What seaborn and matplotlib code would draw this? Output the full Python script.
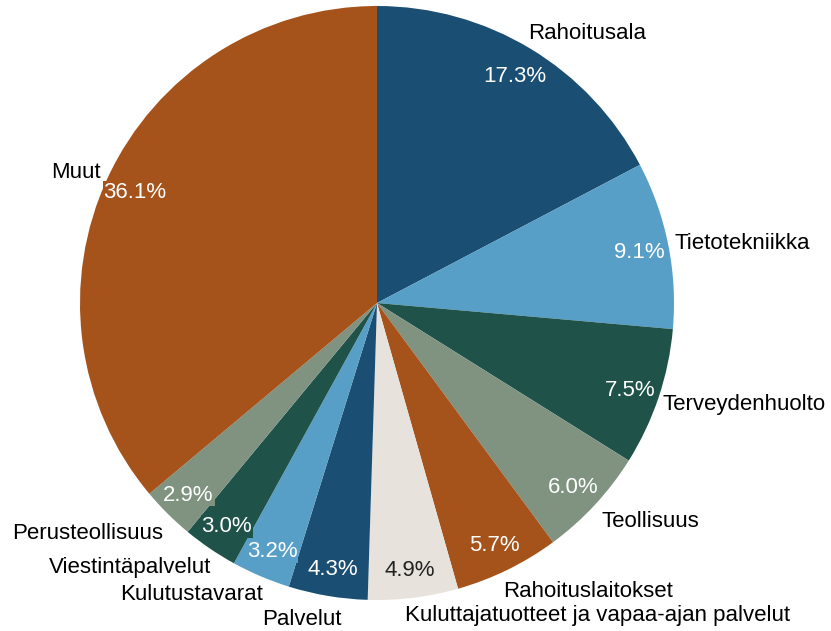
import matplotlib.pyplot as plt
import seaborn as sns

sectors = ["Rahoitusala", "Tietotekniikka", "Terveydenhuolto", "Teollisuus",
           "Rahoituslaitokset", "Kuluttajatuotteet ja vapaa-ajan palvelut",
           "Palvelut", "Kulutustavarat", "Viestintäpalvelut",
           "Perusteollisuus", "Muut"]
shares = [17.3, 9.1, 7.5, 6.0, 5.7, 4.9, 4.3, 3.2, 3.0, 2.9, 36.1]

colors = ["#1a4e72", "#589fc7", "#1f5248", "#7f9380", "#a5521b", "#e7e3dc",
          "#1a4e72", "#589fc7", "#1f5248", "#7f9380", "#a5521b"]

# outside label centres, in pie radius units
label_pos = [(0.707, 0.909), (1.229, 0.202), (1.236, -0.343), (0.919, -0.737),
             (0.710, -0.972), (0.744, -1.053), (-0.253, -1.067), (-0.626, -0.980),
             (-0.832, -0.892), (-0.973, -0.775), (-1.013, 0.438)]

sns.set_theme(style="white")
plt.rcParams["font.family"] = ["Liberation Sans", "DejaVu Sans"]

fig = plt.figure(figsize=(8.31, 6.31), dpi=100)
ax = fig.add_axes([0, 0, 1, 1])
wedges, texts, pcts = ax.pie(shares, colors=colors, startangle=90, counterclock=False,
                             autopct="%.1f%%", pctdistance=0.9,
                             wedgeprops={"linewidth": 0, "edgecolor": "none"},
                             textprops={"fontsize": 16, "color": "white"})

for t, c in zip(pcts, colors):
    t.set_va("center_baseline")
    t.set_bbox(dict(facecolor=c, edgecolor="none", pad=0.5))
pcts[5].set_color("#222222")

for name, (x, y) in zip(sectors, label_pos):
    ax.text(x, y, name, ha="center", va="center", fontsize=16, color="black")

ax.set_xlim(-377 / 297, (831 - 377) / 297)
ax.set_ylim(-328 / 297, (631 - 328) / 297)
ax.set_aspect("auto")
ax.axis("off")

fig.savefig("out.png", dpi=100, facecolor="white")
